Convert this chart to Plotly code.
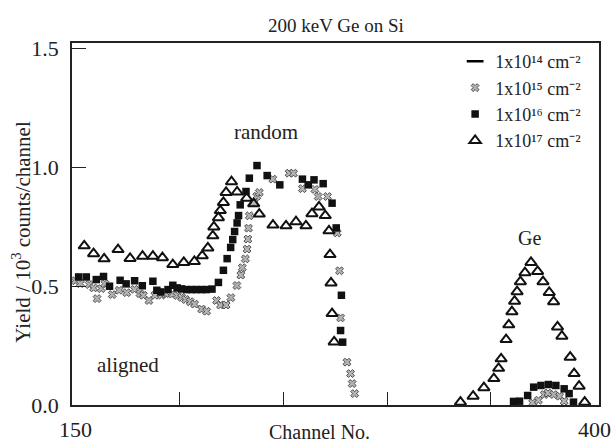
import plotly.graph_objects as go

# ---- data ----
series_names = ["1x10¹⁴ cm⁻²", "1x10¹⁵ cm⁻²", "1x10¹⁶ cm⁻²", "1x10¹⁷ cm⁻²"]

ch14 = [None]
val14 = [None]

ch15 = [149.7, 152.1, 156.4, 158.5, 160.2, 162.2, 163.9, 167.5, 170.8, 174.5, 178.2, 180.9, 182.5,
        185.2, 188.1, 191.3, 193.3, 196.5, 198.8, 201.0, 202.9, 205.1, 207.2, 210.6, 213.0, 217.8,
        219.7, 222.4, 224.7, 227.6, 229.5, 230.2, 231.7, 232.5, 232.9, 233.2, 233.6, 235.8, 237.2,
        238.4, 244.9, 252.8, 254.9, 259.2, 265.2, 266.8, 271.3, 276.0, 277.1, 277.6, 280.7, 282.4,
        283.2, 284.4,
        370.2, 373.0, 375.8, 377.6, 380.4, 383.2, 385.4]
val15 = [0.522, 0.510, 0.506, 0.492, 0.447, 0.489, 0.510, 0.464, 0.482, 0.472, 0.486, 0.468, 0.461,
         0.439, 0.461, 0.462, 0.468, 0.466, 0.460, 0.452, 0.443, 0.434, 0.424, 0.403, 0.394, 0.439,
         0.420, 0.420, 0.451, 0.502, 0.546, 0.577, 0.614, 0.655, 0.697, 0.743, 0.795, 0.849, 0.877,
         0.893, 0.949, 0.974, 0.974, 0.909, 0.906, 0.876, 0.876, 0.723, 0.564, 0.366, 0.180, 0.132,
         0.090, 0.048,
         0.009, 0.020, 0.044, 0.050, 0.044, 0.037, 0.016]

ch16 = [151.3, 155.0, 159.8, 163.3, 166.2, 171.3, 174.2, 178.3, 182.0, 187.1, 189.0, 190.9, 194.4,
        196.7, 198.8, 200.9, 203.3, 205.7, 208.1, 210.5, 212.8, 215.6, 218.7, 221.1, 222.9, 224.6,
        225.6, 226.5, 227.7, 228.4, 229.2, 232.0, 233.6, 237.3, 242.2, 248.3, 259.2, 262.0, 264.8,
        269.2, 273.5, 275.5, 278.0, 277.6, 278.6,
        361.0, 363.9, 367.8, 370.7, 374.2, 377.8, 381.4, 385.4, 387.8, 389.9]
val16 = [0.538, 0.538, 0.527, 0.540, 0.499, 0.524, 0.509, 0.522, 0.501, 0.520, 0.482, 0.475, 0.485,
         0.503, 0.492, 0.488, 0.485, 0.485, 0.485, 0.485, 0.485, 0.487, 0.515, 0.566, 0.615, 0.662,
         0.695, 0.729, 0.765, 0.796, 0.841, 0.897, 0.953, 1.006, 0.964, 0.925, 0.949, 0.925, 0.946,
         0.930, 0.848, 0.744, 0.461, 0.313, 0.264,
         0.015, 0.016, 0.040, 0.075, 0.082, 0.086, 0.082, 0.068, 0.048, 0.012]

ch17 = [154.0, 158.5, 163.6, 170.3, 176.1, 182.1, 187.1, 191.7, 196.7, 202.0, 207.1, 210.9, 213.6,
        216.0, 216.5, 218.7, 219.6, 221.1, 222.4, 225.0, 227.7, 232.3, 235.7, 238.4, 245.0, 251.3,
        256.1, 260.9, 263.8, 267.2, 270.2, 272.0, 272.5, 273.0, 273.5, 274.5,
        335.4, 341.5, 346.7, 351.5, 353.8, 355.0, 357.4, 358.7, 360.2, 361.5, 362.7, 364.3, 366.5,
        369.4, 372.6, 375.2, 378.2, 380.3, 382.2, 384.3, 388.3, 390.2, 392.6, 395.3]
val17 = [0.669, 0.636, 0.614, 0.653, 0.616, 0.625, 0.625, 0.619, 0.590, 0.599, 0.603, 0.627, 0.660,
         0.711, 0.748, 0.787, 0.817, 0.851, 0.893, 0.938, 0.895, 0.869, 0.846, 0.802, 0.756, 0.753,
         0.770, 0.753, 0.804, 0.832, 0.796, 0.732, 0.632, 0.513, 0.384, 0.265,
         0.012, 0.037, 0.073, 0.111, 0.154, 0.194, 0.275, 0.337, 0.392, 0.436, 0.476, 0.518, 0.556,
         0.599, 0.561, 0.518, 0.473, 0.434, 0.328, 0.289, 0.201, 0.132, 0.079, 0.012]

x_ticks = [200, 250, 300, 350]
x_edge_labels = [150, 400]
y_ticks = [0.0, 0.5, 1.0, 1.5]
y_tick_text = ["0.0", "0.5", "1.0", "1.5"]

FONT = "Liberation Serif, Times New Roman, serif"
INK = "#222"

fig = go.Figure()
fig.add_trace(go.Scatter(x=ch14, y=val14, mode="markers", name=series_names[0],
                         marker=dict(symbol="line-ew", size=12, color="black",
                                     line=dict(color="black", width=2.5))))
fig.add_trace(go.Scatter(x=ch15, y=val15, mode="markers", name=series_names[1],
                         marker=dict(symbol="x", size=7, color="#b4b4b4",
                                     line=dict(color="#404040", width=0.9))))
fig.add_trace(go.Scatter(x=ch16, y=val16, mode="markers", name=series_names[2],
                         marker=dict(symbol="square", size=7.5, color="#111111",
                                     line=dict(width=0))))
fig.add_trace(go.Scatter(x=ch17, y=val17, mode="markers", name=series_names[3],
                         marker=dict(symbol="triangle-up-open", size=10, color="#111111",
                                     line=dict(color="#111111", width=2))))

fig.update_xaxes(range=[148.1, 402.2], showgrid=False, zeroline=False,
                 showline=True, mirror=True, linecolor=INK, linewidth=1.5,
                 ticks="inside", ticklen=13, tickwidth=1.2, tickcolor=INK,
                 tickvals=x_ticks, showticklabels=False)
fig.update_yaxes(range=[0, 1.521], showgrid=False, zeroline=False,
                 showline=True, mirror=True, linecolor=INK, linewidth=1.5,
                 ticks="inside", ticklen=14, tickwidth=1.2, tickcolor=INK,
                 tickvals=y_ticks, ticktext=y_tick_text, ticklabelstandoff=7,
                 tickfont=dict(family=FONT, size=22, color=INK))

def ann(x, y, text, size, xref="paper", yref="paper", **kw):
    return dict(x=x, y=y, xref=xref, yref=yref, text=text, showarrow=False,
                xanchor="center", yanchor="middle",
                font=dict(family=FONT, size=size, color=INK), **kw)

annotations = []
for v in x_edge_labels:
    annotations.append(ann(v, 0, str(v), 22, xref="x", yref="y", yshift=-24))
annotations += [
    ann(0.501, 1.047, "200 keV Ge on Si", 19),
    ann(0.469, -0.074, "Channel No.", 20),
    ann(-0.0955, 0.478, "Yield / 10<sup>3</sup> counts/channel", 21, textangle=-90),
    ann(241.8, 1.148, "random", 21, xref="x", yref="y"),
    ann(175.1, 0.166, "aligned", 21, xref="x", yref="y"),
    ann(368.8, 0.703, "Ge", 20, xref="x", yref="y"),
]

fig.update_layout(
    width=613, height=442,
    margin=dict(l=72, r=12, t=43, b=37),
    paper_bgcolor="white", plot_bgcolor="white",
    annotations=annotations,
    legend=dict(x=0.727, y=1.0, xanchor="left", yanchor="top", bgcolor="rgba(0,0,0,0)",
                font=dict(family=FONT, size=18, color=INK), itemwidth=30,
                tracegroupgap=0),
)

fig.write_html("out.html")
